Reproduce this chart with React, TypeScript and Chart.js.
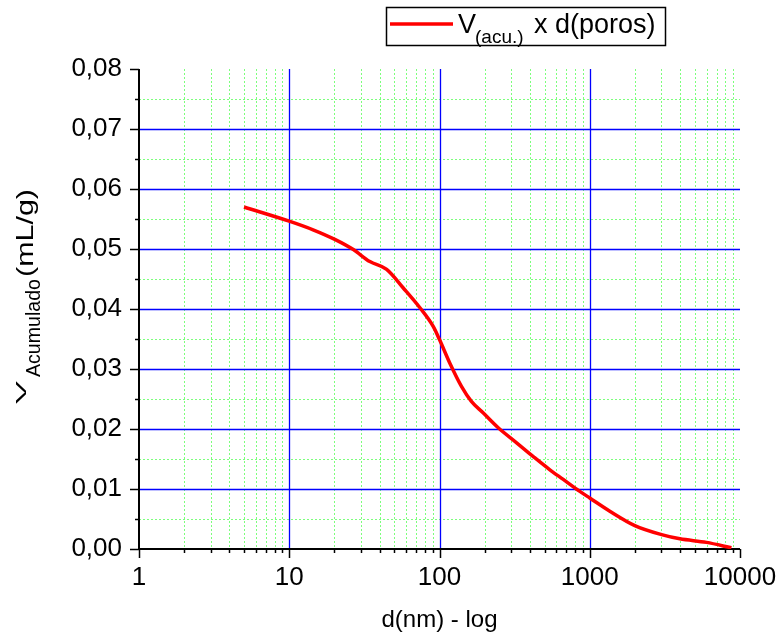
import React, { useEffect, useRef } from 'react';
import { Chart, registerables } from 'chart.js';

Chart.register(...registerables);

// ---- data ----
const poreDiameters = [5, 10.1, 14.4, 20.1, 26.7, 34.4, 44.5, 57.4, 74.1, 90.8, 100, 117, 140, 163, 195, 246, 326, 421, 543, 666, 859, 1000, 1360, 1995, 3006, 3980, 5980, 8770];
const cumulativeVolume = [0.057, 0.0546, 0.0532, 0.0516, 0.0499, 0.0479, 0.0466, 0.0435, 0.0402, 0.0371, 0.0349, 0.031, 0.0271, 0.0246, 0.0227, 0.0202, 0.0177, 0.0154, 0.0132, 0.0116, 0.0096, 0.0085, 0.0063, 0.0039, 0.0024, 0.0017, 0.0011, 0.0002];
const xTickValues = [1, 10, 100, 1000, 10000];
const xMinorMultipliers = [2, 3, 4, 5, 6, 7, 8, 9];
const yTickValues = [0, 0.01, 0.02, 0.03, 0.04, 0.05, 0.06, 0.07, 0.08];
const yMinorValues = [0.005, 0.015, 0.025, 0.035, 0.045, 0.055, 0.065, 0.075];
const xMajorGrid = [10, 100, 1000];
const yMajorGrid = [0.01, 0.02, 0.03, 0.04, 0.05, 0.06, 0.07];
const xTitle = 'd(nm) - log';
const yTitleParts = ['V', 'Acumulado', '(mL/g)'];
const legendParts = ['V', '(acu.)', 'x d(poros)'];

const FONT = '"Liberation Sans", Arial, sans-serif';

const drawPlugin = {
  id: 'customDraw',
  beforeDatasetsDraw(chart: any) {
    const { ctx, chartArea: a, scales } = chart;
    const x = scales.x;
    const y = scales.y;
    ctx.save();
    // minor grid (green dotted)
    ctx.strokeStyle = '#7cff7c';
    ctx.lineWidth = 1;
    ctx.setLineDash([2, 2]);
    for (let i = 0; i < xTickValues.length - 1; i++) {
      for (const m of xMinorMultipliers) {
        const px = Math.round(x.getPixelForValue(xTickValues[i] * m)) + 0.5;
        ctx.beginPath();
        ctx.moveTo(px, a.top);
        ctx.lineTo(px, a.bottom);
        ctx.stroke();
      }
    }
    for (const v of yMinorValues) {
      const py = Math.round(y.getPixelForValue(v)) + 0.5;
      ctx.beginPath();
      ctx.moveTo(a.left, py);
      ctx.lineTo(a.right, py);
      ctx.stroke();
    }
    // major grid (blue)
    ctx.setLineDash([]);
    ctx.strokeStyle = '#0000ff';
    ctx.lineWidth = 1.3;
    for (const v of xMajorGrid) {
      const px = Math.round(x.getPixelForValue(v)) + 0.5;
      ctx.beginPath();
      ctx.moveTo(px, a.top);
      ctx.lineTo(px, a.bottom);
      ctx.stroke();
    }
    for (const v of yMajorGrid) {
      const py = Math.round(y.getPixelForValue(v)) + 0.5;
      ctx.beginPath();
      ctx.moveTo(a.left, py);
      ctx.lineTo(a.right, py);
      ctx.stroke();
    }
    // axes
    ctx.strokeStyle = '#000';
    ctx.lineWidth = 2;
    ctx.beginPath();
    ctx.moveTo(a.left, a.top);
    ctx.lineTo(a.left, a.bottom);
    ctx.lineTo(a.right, a.bottom);
    ctx.stroke();
    // ticks
    ctx.lineWidth = 1.5;
    for (const v of yTickValues) {
      const py = Math.round(y.getPixelForValue(v)) + 0.5;
      ctx.beginPath();
      ctx.moveTo(a.left - 9, py);
      ctx.lineTo(a.left, py);
      ctx.stroke();
    }
    for (const v of yMinorValues) {
      const py = Math.round(y.getPixelForValue(v)) + 0.5;
      ctx.beginPath();
      ctx.moveTo(a.left - 4, py);
      ctx.lineTo(a.left, py);
      ctx.stroke();
    }
    for (const v of xTickValues) {
      const px = Math.round(x.getPixelForValue(v)) + 0.5;
      ctx.beginPath();
      ctx.moveTo(px, a.bottom);
      ctx.lineTo(px, a.bottom + 9);
      ctx.stroke();
    }
    for (let i = 0; i < xTickValues.length - 1; i++) {
      for (const m of xMinorMultipliers) {
        const px = Math.round(x.getPixelForValue(xTickValues[i] * m)) + 0.5;
        ctx.beginPath();
        ctx.moveTo(px, a.bottom);
        ctx.lineTo(px, a.bottom + 4);
        ctx.stroke();
      }
    }
    ctx.restore();
  },
  afterDraw(chart: any) {
    const { ctx, chartArea: a } = chart;
    ctx.save();
    ctx.fillStyle = '#000';
    // x title
    ctx.font = `24px ${FONT}`;
    ctx.textAlign = 'center';
    ctx.textBaseline = 'alphabetic';
    ctx.fillText(xTitle, (a.left + a.right) / 2, 627);

    // y title (rotated)
    ctx.textAlign = 'left';
    const drawRot = (text: string, size: number, startY: number, endY: number, baseX: number, sy: number) => {
      ctx.save();
      ctx.font = `${size}px ${FONT}`;
      const w = ctx.measureText(text).width;
      const sx = (startY - endY) / w;
      ctx.translate(baseX, startY);
      ctx.rotate(-Math.PI / 2);
      ctx.scale(sx, sy);
      ctx.fillText(text, 0, 0);
      ctx.restore();
    };
    drawRot(yTitleParts[0], 20, 404, 381, 26, 0.75);
    drawRot(yTitleParts[1], 20, 377, 279, 40, 1);
    drawRot(yTitleParts[2], 24, 277, 189, 33, 1);

    // legend
    ctx.strokeStyle = '#000';
    ctx.lineWidth = 1.5;
    ctx.strokeRect(386.5, 7.5, 279, 38);
    ctx.strokeStyle = '#ff0000';
    ctx.lineWidth = 3.5;
    ctx.beginPath();
    ctx.moveTo(390, 24);
    ctx.lineTo(453, 24);
    ctx.stroke();
    ctx.fillStyle = '#000';
    ctx.font = `27px ${FONT}`;
    ctx.fillText(legendParts[0], 458, 33);
    ctx.font = `19px ${FONT}`;
    ctx.fillText(legendParts[1], 475, 43);
    ctx.font = `27px ${FONT}`;
    ctx.fillText(legendParts[2], 534, 33);
    ctx.restore();
  },
};

export default function App() {
  const ref = useRef<HTMLCanvasElement>(null);
  useEffect(() => {
    if (!ref.current) return;
    const points = poreDiameters.map((d, i) => ({ x: d, y: cumulativeVolume[i] }));
    const chart = new Chart(ref.current, {
      type: 'line',
      data: {
        datasets: [
          {
            label: 'V(acu.) x d(poros)',
            data: points,
            borderColor: '#ff0000',
            borderWidth: 3.5,
            pointRadius: 0,
            cubicInterpolationMode: 'monotone',
            fill: false,
          },
        ],
      },
      options: {
        animation: false,
        responsive: false,
        devicePixelRatio: 1,
        layout: { padding: { top: 69, right: 43, left: 0, bottom: 0 } },
        plugins: { legend: { display: false }, tooltip: { enabled: false } },
        scales: {
          x: {
            type: 'logarithmic',
            min: 1,
            max: 10000,
            grid: { display: false, drawTicks: false },
            border: { display: false },
            afterBuildTicks: (s: any) => {
              s.ticks = xTickValues.map((v) => ({ value: v }));
            },
            afterFit: (s: any) => {
              s.height = 85;
              s.paddingLeft = 0;
              s.paddingRight = 0;
            },
            ticks: {
              autoSkip: false,
              maxRotation: 0,
              padding: 13,
              color: '#000',
              font: { family: FONT, size: 26 },
              callback: (v: any) => String(v),
            },
          },
          y: {
            type: 'linear',
            min: 0,
            max: 0.08,
            grid: { display: false, drawTicks: false },
            border: { display: false },
            afterBuildTicks: (s: any) => {
              s.ticks = yTickValues.map((v) => ({ value: v }));
            },
            afterFit: (s: any) => {
              s.width = 139;
              s.paddingTop = 0;
              s.paddingBottom = 0;
            },
            ticks: {
              padding: 17,
              color: '#000',
              font: { family: FONT, size: 26 },
              callback: (v: any) => Number(v).toFixed(2).replace('.', ','),
            },
          },
        },
      },
      plugins: [drawPlugin],
    } as any);
    return () => chart.destroy();
  }, []);
  return (
    <div style={{ position: 'absolute', left: 0, top: 0, width: 783, height: 634, background: '#fff' }}>
      <canvas ref={ref} width={783} height={634} />
    </div>
  );
}
